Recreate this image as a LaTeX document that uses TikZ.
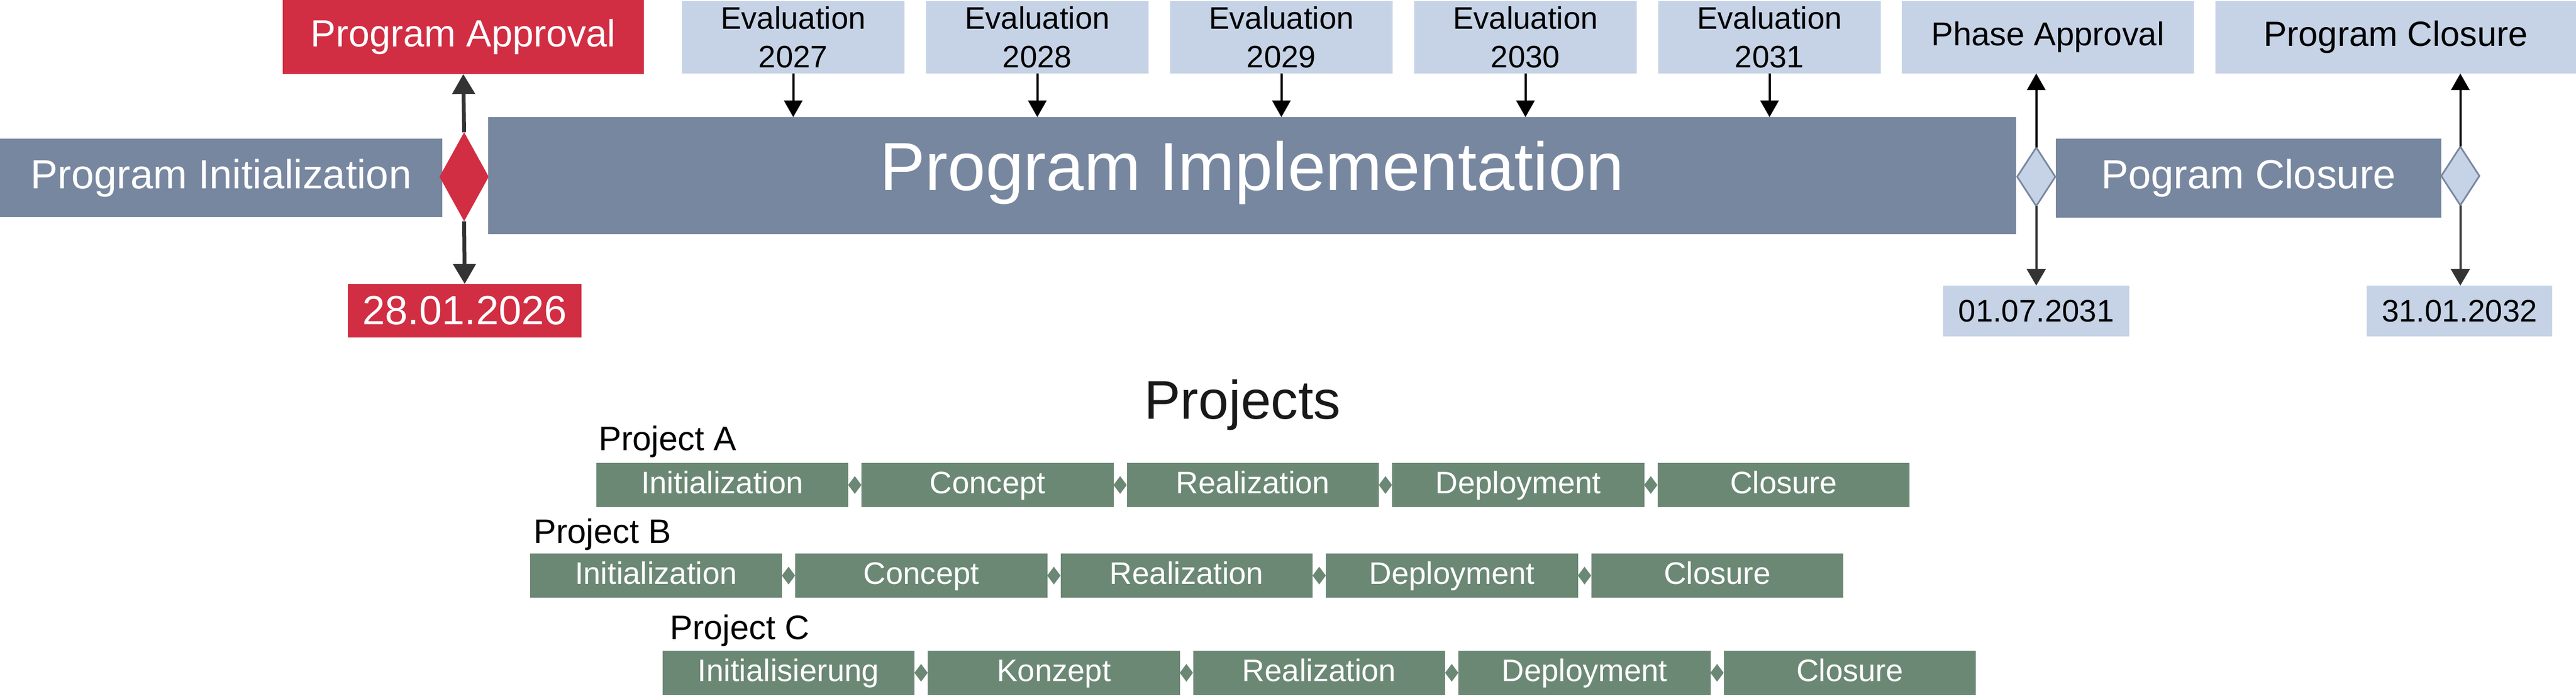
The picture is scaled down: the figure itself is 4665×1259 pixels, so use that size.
\documentclass[tikz,border=0pt]{standalone}
\usepackage{fontspec}
\setmainfont{Liberation Sans}
\usetikzlibrary{shapes.geometric,arrows.meta}
\definecolor{msred}{HTML}{D12D43}
\definecolor{slate}{HTML}{7887A0}
\definecolor{paleblue}{HTML}{C6D3E6}
\definecolor{sage}{HTML}{6B8874}
\definecolor{darkline}{HTML}{333333}

\begin{document}
\begin{tikzpicture}[x=0.01cm,y=-0.01cm,
  every node/.style={inner sep=0pt, outer sep=0pt},
  redbox/.style={fill=msred, text=white},
  slatebar/.style={fill=slate, text=white, font=\fontsize{21}{25}\selectfont},
  palebox/.style={fill=paleblue, text=black},
  phasebox/.style={fill=sage, text=white, minimum width=4.56cm, minimum height=0.8cm, text height=11.5pt, text depth=2.9pt, font=\fontsize{16}{19}\selectfont},
  gem/.style={diamond, fill=sage, minimum width=0.24cm, minimum height=0.32cm},
  milestone/.style={diamond, minimum width=0.69cm, minimum height=1.06cm, fill=paleblue, draw=slate, line width=0.03cm},
  evalarrow/.style={-{Triangle[width=3.3mm,length=3mm]}, line width=0.04cm, black},
  datearrow/.style={-{Triangle[width=3.4mm,length=3mm]}, line width=0.04cm, darkline},
  redarrow/.style={-{Triangle[width=4mm,length=3.6mm]}, line width=0.07cm, darkline},
  projlabel/.style={anchor=base west, font=\fontsize{17.5}{21}\selectfont}]
\useasboundingbox (0,0) rectangle (4665,1259);
\node[redbox, minimum width=6.54cm, minimum height=1.34cm, font=\fontsize{19.5}{23}\selectfont] (approval) at (839,67) {Program Approval};
\node[slatebar, minimum width=8.01cm, minimum height=1.42cm] (init) at (400.5,322) {Program Initialization};
\node[diamond, fill=msred, minimum width=0.89cm, minimum height=1.61cm] (kickoff) at (840.5,320) {};
\node[slatebar, minimum width=27.65cm, minimum height=2.12cm, text height=25.5pt, text depth=10.5pt, font=\fontsize{35}{42}\selectfont] (impl) at (2267.5,318) {Program Implementation};
\node[redbox, minimum width=4.23cm, minimum height=0.97cm, font=\fontsize{21}{25}\selectfont] (startdate) at (841.5,562.5) {28.01.2026};
\draw[redarrow] (kickoff.north) -- (approval.south);
\draw[redarrow] (kickoff.south) -- (startdate.north);
\node[palebox, minimum width=4.03cm, minimum height=1.31cm, align=center, font=\fontsize{16}{19.8}\selectfont] (eval1) at (1436.5,67.5) {Evaluation\\2027};
\node[palebox, minimum width=4.03cm, minimum height=1.31cm, align=center, font=\fontsize{16}{19.8}\selectfont] (eval2) at (1878.5,67.5) {Evaluation\\2028};
\node[palebox, minimum width=4.03cm, minimum height=1.31cm, align=center, font=\fontsize{16}{19.8}\selectfont] (eval3) at (2320.5,67.5) {Evaluation\\2029};
\node[palebox, minimum width=4.03cm, minimum height=1.31cm, align=center, font=\fontsize{16}{19.8}\selectfont] (eval4) at (2762.5,67.5) {Evaluation\\2030};
\node[palebox, minimum width=4.03cm, minimum height=1.31cm, align=center, font=\fontsize{16}{19.8}\selectfont] (eval5) at (3204.5,67.5) {Evaluation\\2031};
\draw[evalarrow] (eval1.south) -- (eval1.south |- impl.north);
\draw[evalarrow] (eval2.south) -- (eval2.south |- impl.north);
\draw[evalarrow] (eval3.south) -- (eval3.south |- impl.north);
\draw[evalarrow] (eval4.south) -- (eval4.south |- impl.north);
\draw[evalarrow] (eval5.south) -- (eval5.south |- impl.north);
\node[palebox, minimum width=5.29cm, minimum height=1.31cm, font=\fontsize{17}{20}\selectfont] (phaseapp) at (3708.5,67.5) {Phase Approval};
\node[palebox, minimum width=6.53cm, minimum height=1.31cm, font=\fontsize{18}{21}\selectfont] (closetop) at (4338.5,67.5) {Program Closure};
\node[milestone] (gate) at (3687.5,320) {};
\node[slatebar, minimum width=6.98cm, minimum height=1.43cm] (closure) at (4072,322.5) {Pogram Closure};
\node[milestone] (finish) at (4455.5,318.5) {};
\node[palebox, minimum width=3.37cm, minimum height=0.92cm, font=\fontsize{16}{19}\selectfont] (gatedate) at (3687.5,563) {01.07.2031};
\node[palebox, minimum width=3.36cm, minimum height=0.92cm, font=\fontsize{16}{19}\selectfont] (enddate) at (4454,563) {31.01.2032};
\draw[evalarrow] (gate.north) -- (gate.north |- phaseapp.south);
\draw[datearrow] (gate.south) -- (gate.south |- gatedate.north);
\draw[evalarrow] (finish.north) -- (finish.north |- closetop.south);
\draw[datearrow] (finish.south) -- (finish.south |- enddate.north);
\node[anchor=base, font=\fontsize{28}{34}\selectfont, text=black!90] (projects) at (2250,758) {Projects};
\node[projlabel] (projA) at (1084,815) {Project A};
\node[phasebox] (a1) at (1308,878) {Initialization};
\node[phasebox] (a2) at (1788.5,878) {Concept};
\node[phasebox] (a3) at (2269,878) {Realization};
\node[phasebox] (a4) at (2749.5,878) {Deployment};
\node[phasebox] (a5) at (3230,878) {Closure};
\node[gem] (ga1) at (1548,878) {};
\node[gem] (ga2) at (2028.5,878) {};
\node[gem] (ga3) at (2509,878) {};
\node[gem] (ga4) at (2989.5,878) {};
\node[projlabel] (projB) at (966,983) {Project B};
\node[phasebox] (b1) at (1188,1042) {Initialization};
\node[phasebox] (b2) at (1668.5,1042) {Concept};
\node[phasebox] (b3) at (2149,1042) {Realization};
\node[phasebox] (b4) at (2629.5,1042) {Deployment};
\node[phasebox] (b5) at (3110,1042) {Closure};
\node[gem] (gb1) at (1428,1042) {};
\node[gem] (gb2) at (1908.5,1042) {};
\node[gem] (gb3) at (2389,1042) {};
\node[gem] (gb4) at (2869.5,1042) {};
\node[projlabel] (projC) at (1213,1157) {Project C};
\node[phasebox] (c1) at (1428,1218) {Initialisierung};
\node[phasebox] (c2) at (1908.5,1218) {Konzept};
\node[phasebox] (c3) at (2389,1218) {Realization};
\node[phasebox] (c4) at (2869.5,1218) {Deployment};
\node[phasebox] (c5) at (3350,1218) {Closure};
\node[gem] (gc1) at (1668,1218) {};
\node[gem] (gc2) at (2148.5,1218) {};
\node[gem] (gc3) at (2629,1218) {};
\node[gem] (gc4) at (3109.5,1218) {};
\end{tikzpicture}
\end{document}
